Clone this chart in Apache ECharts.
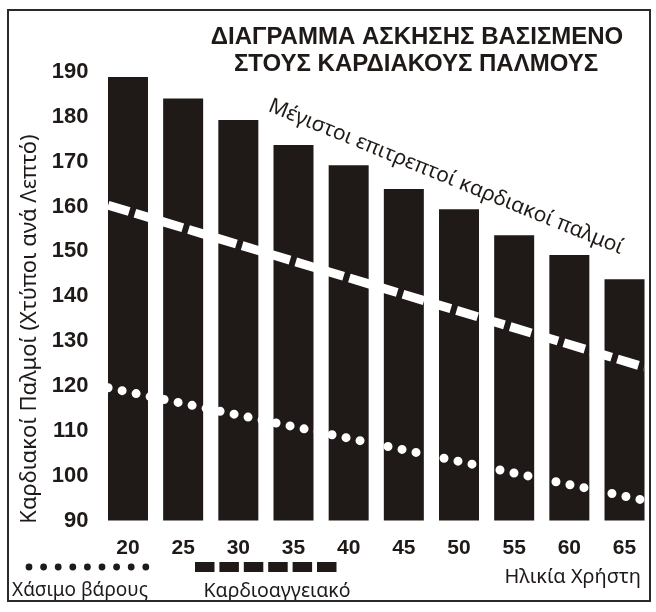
<!DOCTYPE html>
<html>
<head>
<meta charset="utf-8">
<script src="https://cdn.jsdelivr.net/npm/echarts@6/dist/echarts.min.js"></script>
<style>
html,body{margin:0;padding:0;background:#fff;}
#chart{width:656px;height:612px;}
</style>
</head>
<body>
<div id="chart"></div>
<script>
// ---- data ----
const ages = ['20','25','30','35','40','45','50','55','60','65'];
const maxHeartRate = [188.9, 184.1, 179.3, 173.7, 169.2, 163.9, 159.4, 153.6, 149.2, 143.8];
const cardioLine = [[18.2, 160.3], [66.8, 124.2]];
const weightLossLine = [[18.2, 119.6], [66.8, 94.5]];
const yMin = 90, yMax = 190, yStep = 10;
const titleLines = ['ΔΙΑΓΡΑΜΜΑ ΑΣΚΗΣΗΣ ΒΑΣΙΣΜΕΝΟ', 'ΣΤΟΥΣ ΚΑΡΔΙΑΚΟΥΣ ΠΑΛΜΟΥΣ'];
const yAxisTitle = 'Καρδιακοί Παλμοί (Χτύποι ανά Λεπτό)';
const xAxisTitle = 'Ηλικία Χρήστη';
const annotation = 'Μέγιστοι επιτρεπτοί καρδιακοί παλμοί';
const legendNames = ['Χάσιμο βάρους', 'Καρδιοαγγειακό'];

const INK = '#1f1a17';
const REG = '"Noto Sans", "DejaVu Sans", sans-serif';
const chart = echarts.init(document.getElementById('chart'), null, {renderer: 'canvas'});

const graphics = [];
graphics.push({type:'rect', shape:{x:8, y:10, width:642, height:591}, style:{fill:'none', stroke:'#2a2a2a', lineWidth:2}, z:100});
graphics.push({type:'text', x:417, y:37, style:{text:titleLines[0], font:'bold 24px "Liberation Sans Narrow", "Liberation Sans", Arial', fill:INK, align:'center', verticalAlign:'middle'}});
graphics.push({type:'text', x:416, y:64, style:{text:titleLines[1], font:'bold 24px "Liberation Sans Narrow", "Liberation Sans", Arial', fill:INK, align:'center', verticalAlign:'middle'}});
graphics.push({type:'text', x:446, y:177, rotation:-22.1*Math.PI/180, style:{text:annotation, font:'21px ' + REG, fill:INK, align:'center', verticalAlign:'middle'}, z:50});
graphics.push({type:'text', x:30, y:329, rotation:Math.PI/2, style:{text:yAxisTitle, font:'22px ' + REG, fill:INK, align:'center', verticalAlign:'middle'}});
graphics.push({type:'text', x:641, y:577, style:{text:xAxisTitle, font:'20px ' + REG, fill:INK, align:'right', verticalAlign:'middle'}});
graphics.push({type:'text', x:80, y:591, style:{text:legendNames[0], font:'19px ' + REG, fill:INK, align:'center', verticalAlign:'middle'}});
graphics.push({type:'text', x:277, y:591, style:{text:legendNames[1], font:'19.5px ' + REG, fill:INK, align:'center', verticalAlign:'middle'}});
for (let i = 0; i < 9; i++) {
  graphics.push({type:'circle', shape:{cx:29 + i*14.6, cy:567, r:3.4}, style:{fill:INK}});
}
for (let i = 0; i < 6; i++) {
  graphics.push({type:'rect', shape:{x:195 + i*24.4, y:562, width:19.5, height:10}, style:{fill:INK}});
}

const option = {
  animation: false,
  backgroundColor: '#fff',
  grid: {left: 100.4, right: 3.9, top: 72, bottom: 91.5, containLabel: false},
  xAxis: [
    {type:'category', data: ages, axisLine:{show:false}, axisTick:{show:false}, splitLine:{show:false},
     axisLabel:{margin:17, fontSize:21, fontWeight:'bold', color:INK, fontFamily:'"Liberation Sans", Arial'}},
    {type:'value', min:17.5, max:67.5, show:false}
  ],
  yAxis: {type:'value', min:yMin, max:yMax, interval:yStep, axisLine:{show:false}, axisTick:{show:false}, splitLine:{show:false},
    axisLabel:{margin:12, fontSize:22, fontWeight:'bold', color:INK, fontFamily:'"Liberation Sans", Arial'}},
  series: [
    {type:'bar', data: maxHeartRate, barWidth:40, itemStyle:{color:INK}, silent:true, z:2},
    {type:'line', xAxisIndex:1, data: cardioLine, symbol:'none', silent:true, z:5,
     lineStyle:{color:'#fff', width:9, type:[22,6], cap:'butt'}},
    {type:'line', xAxisIndex:1, data: weightLossLine, symbol:'none', silent:true, z:5,
     lineStyle:{color:'#fff', width:9, type:[0,14.3], cap:'round'}}
  ],
  graphic: graphics
};
chart.setOption(option);
</script>
</body>
</html>
